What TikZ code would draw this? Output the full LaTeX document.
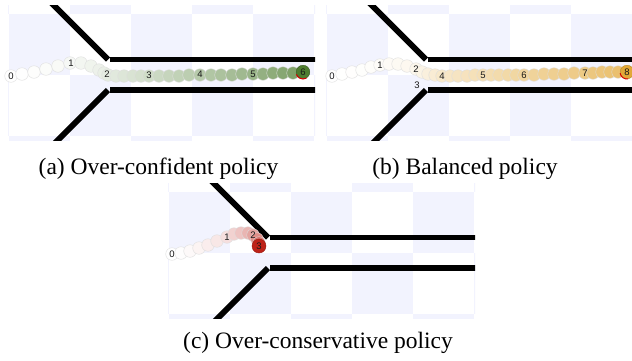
\documentclass[tikz,border=0pt]{standalone}
\usepackage{fontspec}
\setmainfont{Liberation Serif}
\newfontfamily\lblfont{Liberation Sans}
\definecolor{cbBlue}{RGB}{242,243,254}
\definecolor{gEnd}{RGB}{78,125,48}
\definecolor{yEnd}{RGB}{226,168,55}
\definecolor{rEnd}{RGB}{190,34,24}
\tikzset{
  wall/.style={line width=5.8pt, black},
  dotmark/.style={draw=black!13, line width=0.4pt},
  lbl/.style={font=\lblfont\fontsize{9.5}{10}\selectfont, text=black!90, inner sep=0pt},
  captext/.style={font=\fontsize{23.5}{28}\selectfont, inner sep=0pt, anchor=base},
  hitarc/.style={red!85!black, line width=1pt},
}
\newcommand\arenapanel{%
  \begin{scope}
    \clip (8,5) rectangle (315,140);
    \foreach \ci in {-1,...,5}{
      \foreach \cj in {-1,...,2}{
        \pgfmathtruncatemacro\cpar{mod(\ci+\cj+10,2)}
        \ifnum\cpar=0
          \fill[cbBlue] ({9+61*\ci},{14+61*\cj}) rectangle ++(61,61);
        \fi
      }
    }
    \draw[wall] (108,59.5) -- ++(-70,-70);
    \draw[wall] (110,59.5) -- (320,59.5);
    \draw[wall] (110,90) -- (320,90);
    \draw[wall] (108,90) -- ++(-70,70);
  \end{scope}}
\newcommand\trail[3]{%
  \foreach \cx/\cy/\ct in {#3}{
    \pgfmathsetmacro\pc{75*(\ct/#2)*sqrt(\ct/#2)}
    \fill[#1!\pc!white, dotmark] (\cx,\cy) circle[radius=6.3];
  }}
\begin{document}
\begin{tikzpicture}[x=1pt,y=-1pt]
\useasboundingbox (0,0) rectangle (632,360);
\fill[white] (0,0) rectangle (632,360);

% ---------- panel (a)
\begin{scope}
  \arenapanel
  \trail{gEnd}{6}{11/76/0, 22/74/0.2, 34/72/0.4, 46/69/0.6, 58/66/0.8, 70/63/1,
    81/63/1.2, 91/66/1.4, 99/70/1.6, 104/73/1.8, 108/75/2, 116/76/2.2, 124/76/2.4,
    133/76/2.6, 141/76/2.8, 149/76/3, 159/76/3.2, 169/76/3.4, 179/76/3.6, 189/75/3.8,
    200/75/4, 211/75/4.2, 221/75/4.4, 232/75/4.6, 242/74/4.8, 253/74/5, 263/74/5.2,
    273/73/5.4, 283/73/5.6, 293/73/5.8}
  \fill[gEnd, draw=gEnd!70!black, line width=0.4pt] (303,72) circle[radius=6.8];
  \draw[hitarc] (303,72) ++(60:7) arc[start angle=60, end angle=160, radius=7];
  \node[lbl] (a0) at (11,76) {0};
  \node[lbl] (a1) at (71,63) {1};
  \node[lbl] (a2) at (107,74) {2};
  \node[lbl] (a3) at (149,75) {3};
  \node[lbl] (a4) at (200,74) {4};
  \node[lbl] (a5) at (253,74) {5};
  \node[lbl] (a6) at (303,72) {6};
\end{scope}

% ---------- panel (b)
\begin{scope}[shift={(318,0)}]
  \arenapanel
  \trail{yEnd}{8}{14/76/0, 24/74/0.2, 34/72/0.4, 44/70/0.6, 53/67/0.8, 62/65/1,
    71/64/1.25, 80/64/1.5, 89/66/1.75, 98/69/2, 104/72/2.5, 110/74/3, 117/75/3.5,
    124/76/4, 132/76/4.2, 140/76/4.4, 149/76/4.6, 157/75/4.8, 165/75/5, 173/75/5.2,
    181/75/5.4, 190/75/5.6, 198/75/5.8, 206/75/6, 216/75/6.17, 226/74/6.33,
    236/74/6.5, 246/74/6.67, 256/73/6.83, 267/73/7, 275/73/7.2, 284/72/7.4,
    292/72/7.6, 300/72/7.8}
  \fill[yEnd, draw=yEnd!80!black, line width=0.4pt] (309,72) circle[radius=6.8];
  \draw[hitarc] (309,72) ++(80:7) arc[start angle=80, end angle=170, radius=7];
  \node[lbl] (b0) at (14,76) {0};
  \node[lbl] (b1) at (62,65) {1};
  \node[lbl] (b2) at (98,69) {2};
  \node[lbl] (b3) at (99,85) {3};
  \node[lbl] (b4) at (124,76) {4};
  \node[lbl] (b5) at (165,75) {5};
  \node[lbl] (b6) at (206,75) {6};
  \node[lbl] (b7) at (267,73) {7};
  \node[lbl] (b8) at (309,72) {8};
\end{scope}

% ---------- panel (c)
\begin{scope}[shift={(160,178)}]
  \arenapanel
  \trail{rEnd}{3}{12/76/0, 21/75/0.17, 30/73/0.33, 39/70/0.5, 48/67/0.67,
    57/63/0.83, 67/59/1, 74/56/1.25, 81/55/1.5, 88/55/1.75, 93/57/2,
    97/61/2.33, 99/65/2.67}
  \fill[rEnd, draw=rEnd!80!black, line width=0.4pt] (99,68) circle[radius=7];
  \node[lbl] (c0) at (12,76) {0};
  \node[lbl] (c1) at (67,59) {1};
  \node[lbl] (c2) at (93,57) {2};
  \node[lbl] (c3) at (99,68) {3};
\end{scope}

% ---------- captions
\node[captext] (capa) at (158.5,174) {(a) Over-confident policy};
\node[captext] (capb) at (465,174) {(b) Balanced policy};
\node[captext] (capc) at (318,348) {(c) Over-conservative policy};
\end{tikzpicture}
\end{document}
